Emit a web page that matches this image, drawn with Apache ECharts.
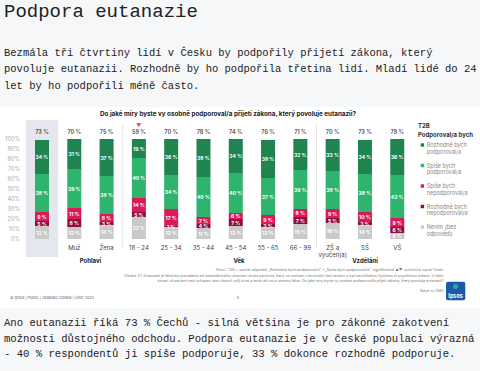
<!DOCTYPE html>
<html><head><meta charset="utf-8">
<script src="https://cdn.jsdelivr.net/npm/echarts@6/dist/echarts.min.js"></script>
<style>
html,body{margin:0;padding:0;background:#f6f7f9;width:480px;height:371px;overflow:hidden;}
#chart{position:absolute;left:0;top:0;width:480px;height:371px;}
.t{position:absolute;font-family:"Liberation Mono",monospace;color:#222;white-space:pre;z-index:2;}
#h{left:4px;top:0px;font-size:19px;line-height:24px;}
#p1{left:4px;top:44.5px;font-size:10.5px;line-height:16.5px;}
#p2{left:4px;top:316px;font-size:10.6px;line-height:15.5px;}
</style></head><body>
<div id="chart"></div>
<div class="t" id="h">Podpora eutanazie</div>
<div class="t" id="p1">Bezmála tři čtvrtiny lidí v Česku by podpořily přijetí zákona, který
povoluje eutanazii. Rozhodně by ho podpořila třetina lidí. Mladí lidé do 24
let by ho podpořili méně často.</div>
<div class="t" id="p2">Ano eutanazii říká 73 % Čechů - silná většina je pro zákonné zakotvení
možnosti důstojného odchodu. Podpora eutanazie je v české populaci výrazná
- 40 % respondentů ji spíše podporuje, 33 % dokonce rozhodně podporuje.</div>
<script>
const categories = ['Total','Muž','Žena','18 - 24','25 - 34','35 - 44','45 - 54','55 - 65','66 - 99','ZŠ a\nvyučen(a)','SŠ','VŠ'];
const t2b            = [73,70,75,59,70,78,74,76,71,70,73,79];
const rozhodnePodp   = [34,31,37,19,36,38,34,38,32,33,34,36];
const spisePodp      = [38,39,38,40,34,40,40,37,39,38,38,43];
const spiseNepodp    = [9,11,8,14,17,7,6,9,8,9,10,9];
const rozhodneNepodp = [5,8,3,5,1,4,7,3,7,5,3,6];
const nevim          = [13,12,14,22,12,11,13,12,15,16,14,6];
const sigLower = [3];
const yTickMax = 100, yTickStep = 10;
const seriesNames = ['Rozhodně bych podporoval/a','Spíše bych podporoval/a','Spíše bych nepodporoval/a','Rozhodně bych nepodporoval/a','Nevím (bez odpovědi)'];
const legendLabels = ['Rozhodně bych\npodporoval/a','Spíše bych\npodporoval/a','Spíše bych\nnepodporoval/a','Rozhodně bych\nnepodporoval/a','Nevím (bez\nodpovědi)'];
const groups = [{name:'Pohlaví', from:1, to:2},{name:'Věk', from:5, to:7},{name:'Vzdělání', from:9, to:11}];
const chartTitle = 'Do jaké míry byste vy osobně podporoval/a přijetí zákona, který povoluje eutanazii?';
const notes = [
 'Pozn.: T2B = součet odpovědí „Rozhodně bych podporoval/a“ + „Spíše bych podporoval/a“; signifikantně ▲▼ vyšší/nižší oproti Totalu',
 'Otázka: E1. Eutanazie je lékařsky provedený akt bezbolestného ukončení života pacienta, který se nachází v terminální fázi nemoci a trpí neutišitelnou fyzickou či psychickou bolestí. V takto',
 'situaci už pacient není schopen sám ukončit svůj život a tento akt musí provést lékař. Do jaké míry byste vy osobně podporoval/a přijetí zákona, který povoluje eutanazii?',
 'Base: n=1060'
];
const footer = '© Ipsos | Public | Zadávací zpráva | Únor 2025';

const colors = ['#1f8450','#2fb46d','#dc1a5a','#8e0f3c','#c9c9c9'];
const FF = 'Inter, Roboto, sans-serif';
const chart = echarts.init(document.getElementById('chart'), null, {renderer:'svg'});
const lbl = {show:true, color:'#fff', fontSize:5, fontWeight:'bold', fontFamily:FF, formatter:p=>p.value+' %'};
function mk(i, data){
  return {name:seriesNames[i], type:'bar', stack:'a', data, barWidth:14,
    itemStyle:{color:colors[i]}, label:lbl, emphasis:{disabled:true}, z:3};
}
const option = {
  animation:false,
  grid:{left:25.85, right:66.6, top:139, bottom:132, outerBoundsMode:'none'},
  xAxis:{type:'category', data:categories, axisLine:{show:false}, axisTick:{show:false},
    axisLabel:{fontSize:6, color:'#444', fontFamily:FF, margin:5, lineHeight:7, interval:0}},
  yAxis:{type:'value', min:0, max:yTickMax, interval:yTickStep, splitLine:{show:false},
    axisLabel:{fontSize:5.5, color:'#aaa', fontFamily:FF, margin:6, formatter:'{value}%'}},
  series:[
    mk(4, nevim), mk(3, rozhodneNepodp), mk(2, spiseNepodp), mk(1, spisePodp), mk(0, rozhodnePodp),
    {type:'scatter', data:t2b.map(()=>yTickMax), symbolSize:0, z:4,
     label:{show:true, position:'top', distance:4, fontFamily:FF,
       formatter:p=> sigLower.includes(p.dataIndex) ? '{tri|▼}\n{v|'+t2b[p.dataIndex]+' %}' : '{v|'+t2b[p.dataIndex]+' %}',
       rich:{v:{fontSize:5.5, fontWeight:'bold', color:'#333', fontFamily:FF},
             tri:{fontSize:5.5, color:'#dc1a5a', lineHeight:7}}}}
  ]
};
chart.setOption(option);

const px = i => chart.convertToPixel({xAxisIndex:0}, i);
const step = px(1) - px(0);
const g = [];
g.push({type:'rect', shape:{x:0, y:107, width:480, height:201}, style:{fill:'#fff'}, z:0, silent:true});
g.push({type:'rect', shape:{x:px(0)-step/2, y:120, width:step, height:137}, style:{fill:'#e5e7ee'}, z:1, silent:true});
[[2,3],[8,9]].forEach(([a,b])=>{
  const x = (px(a)+px(b))/2;
  g.push({type:'line', shape:{x1:x, y1:123, x2:x, y2:248}, style:{stroke:'#e2e2e2', lineWidth:0.8}, z:1, silent:true});
});
g.push({type:'text', x:228, y:114, style:{text:chartTitle, fontSize:6.3, fontWeight:'bold', fill:'#222', fontFamily:FF, align:'center', verticalAlign:'middle'}, z:5});
groups.forEach(gr=>{
  const x = gr.name==='Věk' ? 239 : (px(gr.from)+px(gr.to))/2;
  g.push({type:'text', x, y:260, style:{text:gr.name, fontSize:6, fontWeight:'bold', fill:'#222', fontFamily:FF, align:'center', verticalAlign:'middle'}, z:5});
});
g.push({type:'text', x:418, y:125, style:{text:'T2B', fontSize:6, fontWeight:'bold', fill:'#333', fontFamily:FF, verticalAlign:'middle'}, z:5});
g.push({type:'text', x:418, y:134, style:{text:'Podporoval/a bych', fontSize:6, fontWeight:'bold', fill:'#333', fontFamily:FF, verticalAlign:'middle'}, z:5});
legendLabels.forEach((t,i)=>{
  const y = 145 + i*20.5;
  g.push({type:'rect', shape:{x:420.7, y:y-1.7, width:3.4, height:3.4}, style:{fill:colors[i]}, z:5});
  g.push({type:'text', x:426.7, y:y-3.3, style:{text:t, fontSize:5.5, lineHeight:6.7, fill:'#888', fontFamily:FF, verticalAlign:'top'}, z:5});
});
const noteY = [270, 275.7, 281.4, 290.5];
notes.forEach((t,i)=>{
  g.push({type:'text', x:443.5, y:noteY[i], style:{text:t, fontSize:3.6, fill:'#777', fontFamily:FF, align:'right', verticalAlign:'middle'}, z:5});
});
g.push({type:'text', x:10, y:297.5, style:{text:footer, fontSize:3.8, fill:'#666', fontFamily:FF, verticalAlign:'middle'}, z:5});
g.push({type:'text', x:237.7, y:297.5, style:{text:'4', fontSize:3.8, fill:'#666', fontFamily:FF, align:'center', verticalAlign:'middle'}, z:5});
g.push({type:'rect', shape:{x:446, y:281.7, width:19.3, height:18.5, r:2}, style:{fill:'#1f58a8'}, z:5});
g.push({type:'circle', shape:{cx:455.6, cy:286.5, r:2.6}, style:{fill:'#27a7a4'}, z:6});
g.push({type:'text', x:455.6, y:295.5, style:{text:'Ipsos', fontSize:5.5, fontWeight:'bold', fill:'#fff', fontFamily:FF, align:'center', verticalAlign:'middle'}, z:6});
chart.setOption({graphic:g});
</script>
</body></html>
